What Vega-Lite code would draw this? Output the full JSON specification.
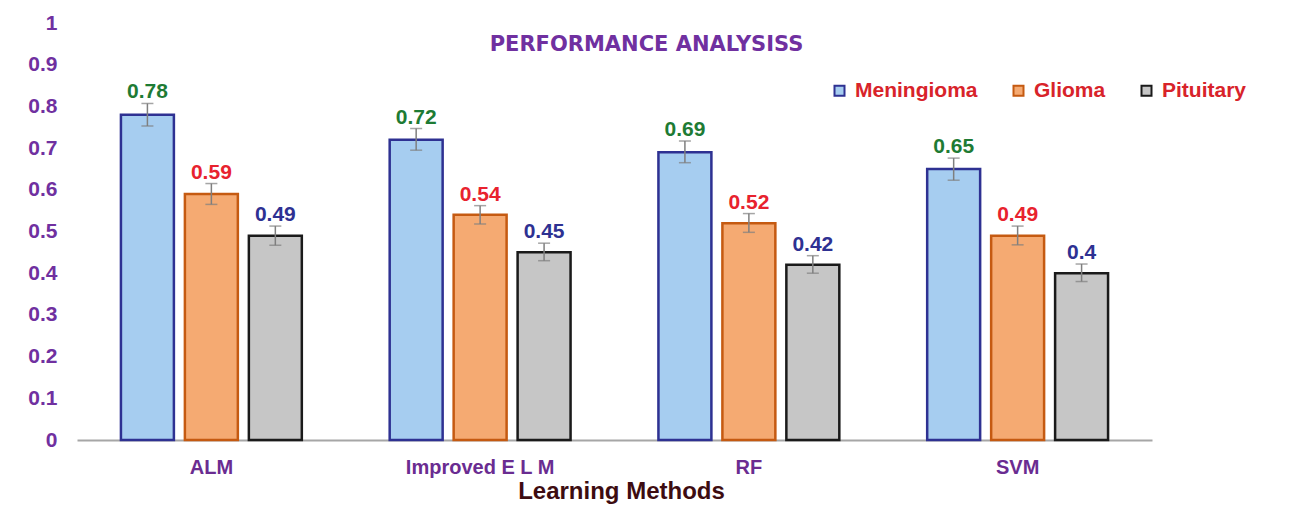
{
  "$schema": "https://vega.github.io/schema/vega-lite/v6.json",
  "autosize": "none",
  "width": 1075,
  "height": 417,
  "padding": {"left": 77, "top": 23, "right": 138, "bottom": 68},
  "background": "white",
  "config": {
    "view": {"stroke": null},
    "font": "Liberation Sans"
  },
  "title": {
    "text": "PERFORMANCE ANALYSISS",
    "color": "#7030A0",
    "font": "DejaVu Sans",
    "fontSize": 21,
    "fontWeight": "bold",
    "anchor": "middle",
    "dx": 32,
    "dy": 58,
    "baseline": "middle"
  },
  "data": {
    "values": [
      {"method": "ALM", "series": "Meningioma", "value": 0.78, "lo": 0.753, "hi": 0.807},
      {"method": "ALM", "series": "Glioma", "value": 0.59, "lo": 0.565, "hi": 0.615},
      {"method": "ALM", "series": "Pituitary", "value": 0.49, "lo": 0.467, "hi": 0.513},
      {"method": "Improved E L M", "series": "Meningioma", "value": 0.72, "lo": 0.695, "hi": 0.747},
      {"method": "Improved E L M", "series": "Glioma", "value": 0.54, "lo": 0.518, "hi": 0.562},
      {"method": "Improved E L M", "series": "Pituitary", "value": 0.45, "lo": 0.43, "hi": 0.472},
      {"method": "RF", "series": "Meningioma", "value": 0.69, "lo": 0.665, "hi": 0.717},
      {"method": "RF", "series": "Glioma", "value": 0.52, "lo": 0.498, "hi": 0.543},
      {"method": "RF", "series": "Pituitary", "value": 0.42, "lo": 0.4, "hi": 0.442},
      {"method": "SVM", "series": "Meningioma", "value": 0.65, "lo": 0.623, "hi": 0.676},
      {"method": "SVM", "series": "Glioma", "value": 0.49, "lo": 0.468, "hi": 0.513},
      {"method": "SVM", "series": "Pituitary", "value": 0.4, "lo": 0.38, "hi": 0.422}
    ]
  },
  "encoding": {
    "x": {
      "field": "method",
      "type": "nominal",
      "sort": ["ALM", "Improved E L M", "RF", "SVM"],
      "scale": {"paddingInner": 0.286, "paddingOuter": 0.143},
      "axis": {
        "title": "Learning Methods",
        "titleColor": "#3D0C11",
        "titleFontSize": 24,
        "titleFontWeight": "bold",
        "titleX": 544,
        "titleY": 51,
        "titleBaseline": "middle",
        "labelAngle": 0,
        "labelColor": "#6A2C91",
        "labelFontSize": 20,
        "labelFontWeight": "bold",
        "labelPadding": 17,
        "ticks": false,
        "domainColor": "#A6A6A6",
        "domainWidth": 2
      }
    },
    "xOffset": {
      "field": "series",
      "type": "nominal",
      "sort": ["Meningioma", "Glioma", "Pituitary"],
      "scale": {"paddingInner": 0.172, "paddingOuter": 0.086}
    }
  },
  "layer": [
    {
      "mark": {"type": "bar", "strokeWidth": 2.5},
      "encoding": {
        "y": {
          "field": "value",
          "type": "quantitative",
          "scale": {"domain": [0, 1], "nice": false},
          "axis": {
            "title": null,
            "values": [0, 0.1, 0.2, 0.3, 0.4, 0.5, 0.6, 0.7, 0.8, 0.9, 1],
            "format": "~g",
            "grid": false,
            "domain": false,
            "ticks": false,
            "labelColor": "#7030A0",
            "labelFontSize": 21,
            "labelFontWeight": "bold",
            "labelPadding": 20
          }
        },
        "fill": {
          "field": "series",
          "type": "nominal",
          "scale": {"domain": ["Meningioma", "Glioma", "Pituitary"], "range": ["#A6CDF0", "#F5AA72", "#C6C6C6"]},
          "legend": {
            "title": null,
            "orient": "none",
            "legendX": 752,
            "legendY": 57,
            "direction": "horizontal",
            "symbolType": "square",
            "symbolSize": 100,
            "symbolStrokeWidth": 2,
            "labelColor": "#D8232A",
            "labelFontSize": 21,
            "labelFontWeight": "bold",
            "labelOffset": 5,
            "columnPadding": 30
          }
        },
        "stroke": {
          "field": "series",
          "type": "nominal",
          "scale": {"domain": ["Meningioma", "Glioma", "Pituitary"], "range": ["#2E3192", "#C55A11", "#1A1A1A"]},
          "legend": {
            "title": null,
            "orient": "none",
            "legendX": 752,
            "legendY": 57,
            "direction": "horizontal",
            "symbolType": "square",
            "symbolSize": 100,
            "symbolStrokeWidth": 2,
            "labelColor": "#D8232A",
            "labelFontSize": 21,
            "labelFontWeight": "bold",
            "labelOffset": 5,
            "columnPadding": 30
          }
        }
      }
    },
    {
      "mark": {"type": "rule", "color": "#7F7F7F", "strokeWidth": 1.5},
      "encoding": {
        "y": {"field": "lo", "type": "quantitative"},
        "y2": {"field": "hi"}
      }
    },
    {
      "mark": {"type": "tick", "orient": "horizontal", "color": "#7F7F7F", "size": 12, "thickness": 1.5},
      "encoding": {
        "y": {"field": "lo", "type": "quantitative"}
      }
    },
    {
      "mark": {"type": "tick", "orient": "horizontal", "color": "#7F7F7F", "size": 12, "thickness": 1.5},
      "encoding": {
        "y": {"field": "hi", "type": "quantitative"}
      }
    },
    {
      "mark": {"type": "text", "baseline": "alphabetic", "dy": -5, "fontSize": 21, "fontWeight": "bold"},
      "encoding": {
        "y": {"field": "hi", "type": "quantitative"},
        "text": {"field": "value", "type": "quantitative", "format": "~g"},
        "color": {
          "field": "series",
          "type": "nominal",
          "scale": {"domain": ["Meningioma", "Glioma", "Pituitary"], "range": ["#1E7B34", "#E8222E", "#2E3192"]},
          "legend": null
        }
      }
    }
  ]
}
